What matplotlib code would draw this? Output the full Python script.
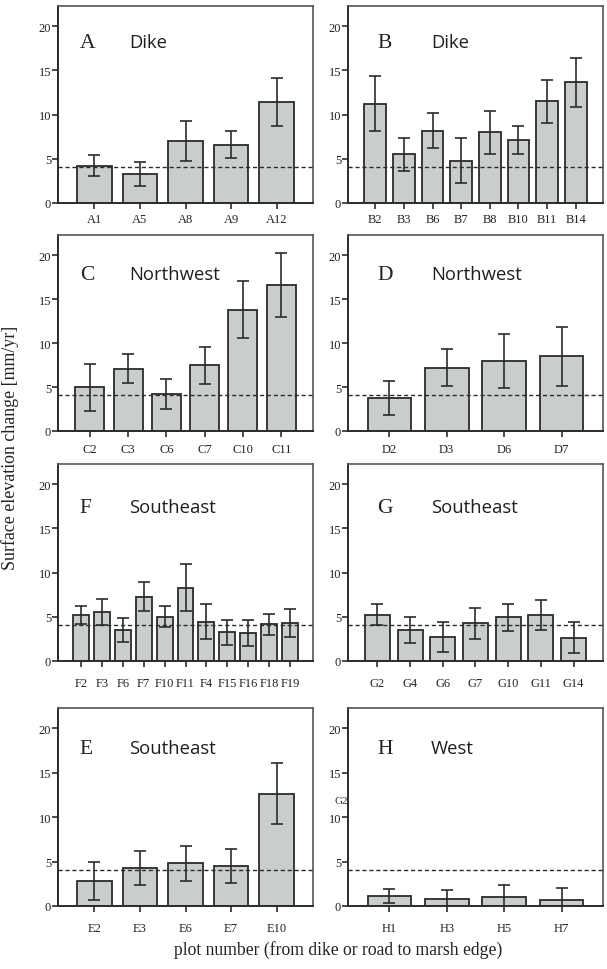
import matplotlib
matplotlib.use("Agg")
import matplotlib.pyplot as plt

# ---------------- data ----------------
labels_A = ["A1", "A5", "A8", "A9", "A12"]
mean_A = [4.2, 3.3, 7.0, 6.6, 11.4]
err_A = [1.2, 1.35, 2.3, 1.55, 2.7]

labels_B = ["B2", "B3", "B6", "B7", "B8", "B10", "B11", "B14"]
mean_B = [11.25, 5.5, 8.2, 4.8, 8.0, 7.15, 11.5, 13.65]
err_B = [3.15, 1.85, 1.95, 2.55, 2.4, 1.6, 2.4, 2.8]

labels_C = ["C2", "C3", "C6", "C7", "C10", "C11"]
mean_C = [4.95, 7.1, 4.2, 7.5, 13.8, 16.6]
err_C = [2.65, 1.65, 1.73, 2.1, 3.25, 3.6]

labels_D = ["D2", "D3", "D6", "D7"]
mean_D = [3.75, 7.2, 7.95, 8.5]
err_D = [1.97, 2.1, 3.05, 3.35]

labels_F = ["F2", "F3", "F6", "F7", "F10", "F11", "F4", "F15", "F16", "F18", "F19"]
mean_F = [5.2, 5.55, 3.55, 7.3, 5.0, 8.3, 4.45, 3.25, 3.2, 4.15, 4.3]
err_F = [1.05, 1.5, 1.35, 1.6, 1.2, 2.65, 1.95, 1.4, 1.45, 1.2, 1.55]

labels_G = ["G2", "G4", "G6", "G7", "G10", "G11", "G14"]
mean_G = [5.25, 3.5, 2.75, 4.25, 4.95, 5.25, 2.65]
err_G = [1.2, 1.45, 1.7, 1.8, 1.5, 1.7, 1.8]

labels_E = ["E2", "E3", "E6", "E7", "E10"]
mean_E = [2.8, 4.3, 4.8, 4.5, 12.65]
err_E = [2.15, 1.95, 2.0, 1.92, 3.4]

labels_H = ["H1", "H3", "H5", "H7"]
mean_H = [1.13, 0.75, 1.02, 0.64]
err_H = [0.8, 1.05, 1.3, 1.4]

panel_letters = ["A", "B", "C", "D", "F", "G", "E", "H"]
region_names = ["Dike", "Dike", "Northwest", "Northwest",
                "Southeast", "Southeast", "Southeast", "West"]
reference_rate = 4.1
y_ticks = [0, 5, 10, 15, 20]

# ---------------- layout ----------------
W, H = 607, 970
fig = plt.figure(figsize=(W / 100, H / 100), dpi=100)
fig.patch.set_facecolor("white")

cols = [(58, 313), (348, 603)]
rows = [(7, 204), (236, 432), (465, 662), (709, 907)]
row_pad = [3.0, 4.0, 7.0, 7.0]
row_base = [0.792, 0.777, 0.755, 0.773]
margins = [0.8, 0.95, 0.83, 0.72, 1.1, 0.9, 0.8, 0.72]

panels = [(labels_A, mean_A, err_A), (labels_B, mean_B, err_B),
          (labels_C, mean_C, err_C), (labels_D, mean_D, err_D),
          (labels_F, mean_F, err_F), (labels_G, mean_G, err_G),
          (labels_E, mean_E, err_E), (labels_H, mean_H, err_H)]

serif = "Liberation Serif"
sans = "Open Sans"
bar_color = "#c9cecc"
dark = "#2b2b2b"

for i, (labs, means, errs) in enumerate(panels):
    r, c = divmod(i, 2)
    (x0, x1), (y0, y1) = cols[c], rows[r]
    ax = fig.add_axes([x0 / W, 1 - y1 / H, (x1 - x0) / W, (y1 - y0) / H])
    x = list(range(len(labs)))
    ax.bar(x, means, width=0.76, color=bar_color, edgecolor=dark,
           linewidth=1.3, zorder=2)
    ax.errorbar(x, means, yerr=errs, fmt="none", ecolor=dark,
                elinewidth=1.2, capsize=4.5, capthick=1.2, zorder=3)
    ax.axhline(reference_rate, color=dark, linestyle=(0, (3, 2)),
               linewidth=1.0, zorder=4)
    m = margins[i]
    ax.set_xlim(-m, len(labs) - 1 + m)
    ax.set_ylim(0, 22.3)
    ax.set_yticks(y_ticks)
    ax.set_xticks(x)
    ax.set_xticklabels(labs)
    for lab in ax.get_xticklabels() + ax.get_yticklabels():
        lab.set_fontfamily(serif)
        lab.set_fontsize(9)
        lab.set_color("#222222")
    ax.tick_params(axis="y", direction="out", length=4.5, width=1.2,
                   pad=0.5, color=dark)
    ax.tick_params(axis="x", direction="out", length=4.5, width=1.2,
                   pad=row_pad[r], color=dark)
    for side in ["top", "right"]:
        ax.spines[side].set_color("#555555")
        ax.spines[side].set_linewidth(1.2)
    for side in ["left", "bottom"]:
        ax.spines[side].set_color(dark)
        ax.spines[side].set_linewidth(1.4)
    lx, nx = (0.086, 0.278) if c == 0 else (0.115, 0.325)
    ax.text(lx, row_base[r], panel_letters[i], transform=ax.transAxes,
            fontfamily=serif, fontsize=15.5, color="#222222",
            ha="left", va="baseline")
    ax.text(nx, row_base[r], region_names[i], transform=ax.transAxes,
            fontfamily=sans, fontsize=13.3, color="#1e1e1e",
            ha="left", va="baseline")

fig.text(341 / W, 1 - 802 / H, "G2", fontfamily=serif, fontsize=8,
         color="#333333", ha="center", va="center")
fig.text(10 / W, 1 - 448 / H, "Surface elevation change [mm/yr]",
         rotation=90, fontfamily=serif, fontsize=12.9, color="#222222",
         ha="center", va="center")
fig.text(338 / W, 1 - 950 / H, "plot number (from dike or road to marsh edge)",
         fontfamily=serif, fontsize=12.7, color="#222222",
         ha="center", va="center")

fig.savefig("out.png", dpi=100)
